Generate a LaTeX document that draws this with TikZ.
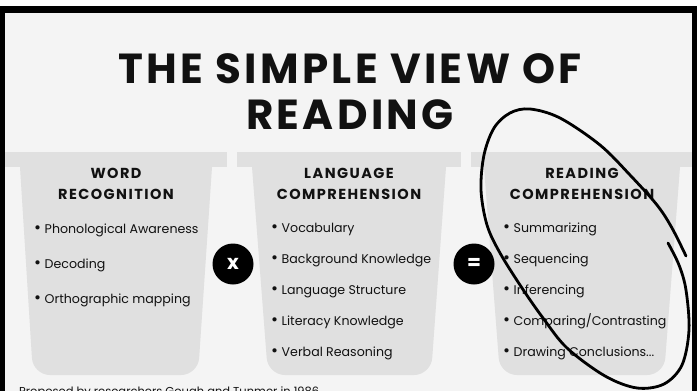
\documentclass[tikz,border=0pt]{standalone}
\usepackage{fontspec}
\setmainfont{Poppins}
\usepackage{xcolor}
\usetikzlibrary{positioning}
\definecolor{ink}{HTML}{111111}
\definecolor{page}{HTML}{F4F4F4}
\definecolor{cupgray}{HTML}{E0E0E0}
\newcommand{\bul}{{\fontsize{17}{15}\selectfont\textbullet}\hspace{3.5pt}}
\tikzset{
  cup/.style={fill=cupgray},
  title/.style={font={\fontsize{42}{46}\selectfont\bfseries\addfontfeatures{LetterSpace=8}}, anchor=base, inner sep=0pt, text=ink},
  heading/.style={font={\fontsize{14.5}{16}\selectfont\bfseries\addfontfeatures{LetterSpace=10}}, anchor=base, inner sep=0pt, text=ink},
  item/.style={font=\fontsize{12.6}{15}\selectfont, anchor=base west, inner sep=0pt, text=ink},
  op/.style={circle, fill=black, minimum size=41pt, inner sep=0pt, text=white, font={\fontsize{20}{20}\selectfont\bfseries}},
  foot/.style={font=\fontsize{11.5}{13}\selectfont, anchor=base west, inner sep=0pt, text=ink},
  loop/.style={line width=2.8pt, line cap=round, line join=round},
}
\begin{document}
\begin{tikzpicture}[x=1pt, y=-1pt]
  \useasboundingbox (0,0) rectangle (697,391);
  \clip (0,0) rectangle (697,391);
  % frame
  \fill[white] (0,0) rectangle (697,391);
  \fill[black] (0,6) rectangle (697,400);
  \fill[page] (5,13) rectangle (692,400);
  % cups
  \fill[cup] (5,152) rectangle (227,167);
  \fill[cup] (20,167) [rounded corners=17pt] -- (33,375) -- (198,375) [sharp corners] -- (212,167) -- cycle;
  \fill[cup] (237,152) rectangle (461,167);
  \fill[cup] (252,167) [rounded corners=17pt] -- (268,375) -- (431,375) [sharp corners] -- (446,167) -- cycle;
  \fill[cup] (471,152) rectangle (692,167);
  \fill[cup] (484,167) [rounded corners=17pt] -- (500,375) -- (664,375) [sharp corners] -- (680,167) -- cycle;
  % title
  \node[title] (t1) at (350,83) {THE SIMPLE VIEW OF};
  \node[title] (t2) at (350,129) {READING};
  % word recognition
  \node[heading] (wr1) at (116,178) {WORD};
  \node[heading] (wr2) at (116,199) {RECOGNITION};
  \node[item] (wr-a) at (34,233) {\bul Phonological Awareness};
  \node[item] (wr-b) at (34,268) {\bul Decoding};
  \node[item] (wr-c) at (34,303) {\bul Orthographic mapping};
  % language comprehension
  \node[heading] (lc1) at (349,178) {LANGUAGE};
  \node[heading] (lc2) at (349,199) {COMPREHENSION};
  \node[item] (lc-a) at (271,232) {\bul Vocabulary};
  \node[item] (lc-b) at (271,263) {\bul Background Knowledge};
  \node[item] (lc-c) at (271,294) {\bul Language Structure};
  \node[item] (lc-d) at (271,325) {\bul Literacy Knowledge};
  \node[item] (lc-e) at (271,356) {\bul Verbal Reasoning};
  % reading comprehension
  \node[heading] (rc1) at (582,178) {READING};
  \node[heading] (rc2) at (582,199) {COMPREHENSION};
  \node[item] (rc-a) at (503,232) {\bul Summarizing};
  \node[item] (rc-b) at (503,263) {\bul Sequencing};
  \node[item] (rc-c) at (503,294) {\bul Inferencing};
  \node[item] (rc-d) at (503,325) {\bul Comparing/Contrasting};
  \node[item] (rc-e) at (503,356) {\bul Drawing Conclusions...};
  % operators
  \node[op] (times) at (233,264) {x};
  \node[op] (equals) at (474,264) {=};
  % source
  \node[foot] (src) at (19,395) {Proposed by researchers Gough and Tunmer in 1986};
  % hand-drawn loop
  \draw[loop] plot[smooth, tension=0.55] coordinates {(668,243) (679,265) (686,290) (689,330) (682,365) (664,384) (637,388) (605,376) (567,348) (543,318) (522,288) (500,253) (487,225) (481,190) (484,155) (494,128) (510,113) (530,109) (560,118) (600,145) (630,175) (657,205) (672,228) (686,256)};
\end{tikzpicture}
\end{document}
